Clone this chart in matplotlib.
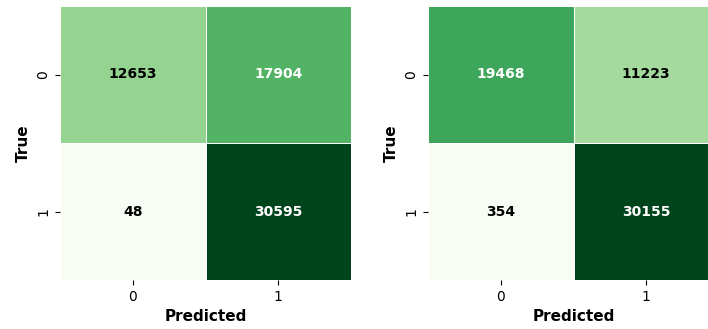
import numpy as np
import matplotlib.pyplot as plt
import seaborn as sns

# confusion matrices (rows = True, cols = Predicted)
cm_left = np.array([[12653, 17904],
                    [48, 30595]])
cm_right = np.array([[19468, 11223],
                     [354, 30155]])
class_labels = ['0', '1']

fig = plt.figure(figsize=(7.08, 3.29), dpi=100)
ax1 = fig.add_axes([60 / 708, 49 / 329, 291 / 708, 274 / 329])
ax2 = fig.add_axes([428 / 708, 49 / 329, 291 / 708, 274 / 329])

for ax, cm in zip([ax1, ax2], [cm_left, cm_right]):
    sns.heatmap(cm, annot=True, fmt='d', cmap='Greens', cbar=False,
                linewidths=0.5, linecolor='white',
                xticklabels=class_labels, yticklabels=class_labels,
                annot_kws={'fontsize': 10, 'fontweight': 'bold'}, ax=ax)
    # dark annotations in pure black
    for t in ax.texts:
        if t.get_color() != 'w':
            t.set_color('black')
    ax.set_xlabel('Predicted', fontsize=11, fontweight='bold')
    ax.set_ylabel('True', fontsize=11, fontweight='bold')
    ax.tick_params(labelsize=10)

plt.savefig('out.png', dpi=100)
